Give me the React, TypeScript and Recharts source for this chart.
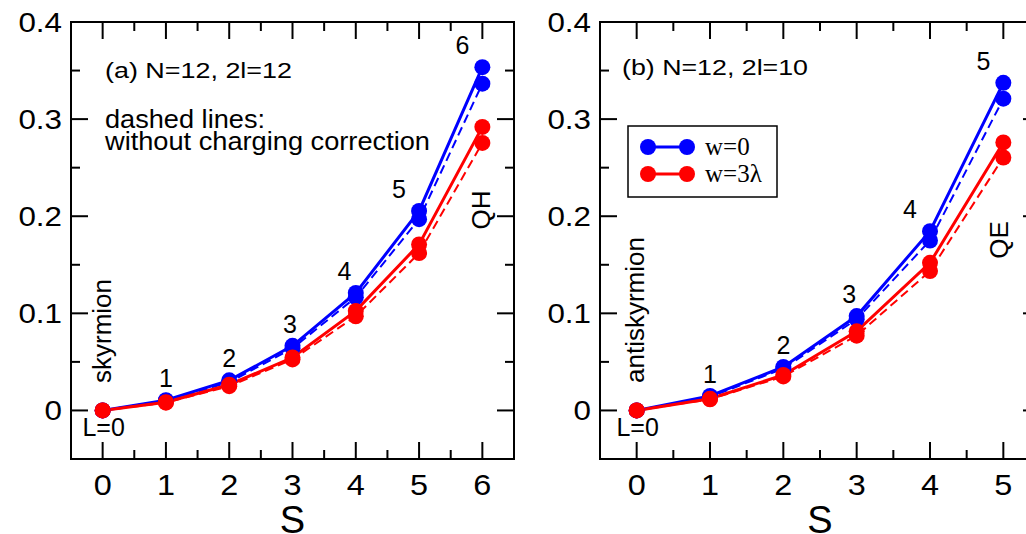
import React from "react";
import { LineChart, Line, XAxis, YAxis, LabelList, Legend, ReferenceArea, ReferenceLine } from "recharts";

// panel (a): N=12, 2l=12
const sA = [0, 1, 2, 3, 4, 5, 6];
const aBlue = [0, 0.0105, 0.031, 0.0665, 0.121, 0.2055, 0.3535];
const aBlueBare = [0, 0.01, 0.029, 0.064, 0.1165, 0.197, 0.3365];
const aRed = [0, 0.0085, 0.0265, 0.0545, 0.1025, 0.171, 0.292];
const aRedBare = [0, 0.008, 0.025, 0.0525, 0.097, 0.162, 0.2755];

// panel (b): N=12, 2l=10
const sB = [0, 1, 2, 3, 4, 5];
const bBlue = [0, 0.015, 0.0448, 0.0972, 0.1846, 0.3374];
const bBlueBare = [0, 0.014, 0.043, 0.094, 0.175, 0.321];
const bRed = [0, 0.012, 0.0365, 0.0815, 0.152, 0.276];
const bRedBare = [0, 0.0115, 0.035, 0.077, 0.1435, 0.2605];

const aTicks = [0, 0.5, 1, 1.5, 2, 2.5, 3, 3.5, 4, 4.5, 5, 5.5, 6];
const bTicks = [0, 0.5, 1, 1.5, 2, 2.5, 3, 3.5, 4, 4.5, 5];
const yTicks = [0, 0.05, 0.1, 0.15, 0.2, 0.25, 0.3, 0.35, 0.4];

const legendNames = ["w=0", "w=3λ"];
const BLUE = "#0000ff";
const RED = "#ff0000";
const legendColors = [BLUE, RED];

const SANS = '"Liberation Sans", Arial, Helvetica, sans-serif';
const SERIF = '"Liberation Serif", "Times New Roman", serif';

const W = 530;
const H = 534;
const Y_AXIS_W = 60;
const X_AXIS_H = 40;
const Y_MIN = -0.05;
const Y_MAX = 0.4;
const MAJOR = 17; // px
const MINOR = 9;

const isMajorX = (v: number) => Math.abs(v - Math.round(v)) < 1e-6;
const isMajorY = (v: number) => Math.abs(v * 10 - Math.round(v * 10)) < 1e-6;

const BottomLabel = (p: any) => {
  const { x, y, payload } = p;
  if (!isMajorX(payload.value)) return <g />;
  return (
    <text
      transform={`translate(${x},${y + 36}) scale(1.08,1)`}
      textAnchor="middle"
      fontFamily={SANS}
      fontSize={30}
      fill="#000"
    >
      {payload.value}
    </text>
  );
};

const LeftLabel = (p: any) => {
  const { x, y, payload } = p;
  const v = payload.value as number;
  if (!isMajorY(v)) return <g />;
  return (
    <text
      transform={`translate(${x - 9},${y + 10}) scale(1.12,1)`}
      textAnchor="end"
      fontFamily={SANS}
      fontSize={28}
      fill="#000"
    >
      {v === 0 ? "0" : v.toFixed(1)}
    </text>
  );
};

const pointLabel = (vals: number[]) => (p: any) => {
  const { x, y, index, value } = p;
  if (index === 0) {
    return (
      <text x={x + 1} y={y + 26} textAnchor="middle" fontFamily={SANS} fontSize={25} fill="#000">
        L=0
      </text>
    );
  }
  const dx = -Math.min(20, Math.max(0, (vals[index] - 0.05) * 160));
  return (
    <text x={x + dx} y={y - 13} textAnchor="middle" fontFamily={SANS} fontSize={25} fill="#000">
      {value}
    </text>
  );
};

const axisTitle = (p: any) => {
  const vb = p.viewBox;
  return (
    <text x={vb.x + vb.width / 2} y={vb.y + 74} textAnchor="middle" fontFamily={SANS} fontSize={38} fill="#000">
      S
    </text>
  );
};

const legendContent = () => (
  <svg width={152} height={74} style={{ display: "block" }}>
    <rect x={1} y={1} width={149} height={71} fill="#fff" stroke="#000" strokeWidth={1.5} />
    {legendNames.map((name, i) => {
      const cy = 22 + i * 27;
      const c = legendColors[i];
      return (
        <g key={name}>
          <line x1={21} x2={60} y1={cy} y2={cy} stroke={c} strokeWidth={3} />
          <circle cx={21} cy={cy} r={8} fill={c} />
          <circle cx={60} cy={cy} r={8} fill={c} />
          <text x={78} y={cy + 8} fontFamily={SERIF} fontSize={25} fill="#000">
            {name}
          </text>
        </g>
      );
    })}
  </svg>
);

type PanelProps = {
  rows: any[];
  labelVals: number[];
  xMax: number;
  xTicks: number[];
  margin: { top: number; right: number; bottom: number; left: number };
  legend?: boolean;
};

function Panel({ rows, labelVals, xMax, xTicks, margin, legend }: PanelProps) {
  const dot = (c: string) => ({ r: 8, fill: c, stroke: "none" });
  const xLo = -0.5;
  const xHi = xMax + 0.5;
  const plotW = W - margin.left - margin.right - Y_AXIS_W;
  const plotH = H - margin.top - margin.bottom - X_AXIS_H;
  const xPerPx = (xHi - xLo) / plotW;
  const yPerPx = (Y_MAX - Y_MIN) / plotH;

  // inward ticks on all four sides of the frame
  const segs: { x: number; y: number }[][] = [];
  xTicks.forEach((t) => {
    const len = (isMajorX(t) ? MAJOR : MINOR) * yPerPx;
    segs.push([{ x: t, y: Y_MIN }, { x: t, y: Y_MIN + len }]);
    segs.push([{ x: t, y: Y_MAX }, { x: t, y: Y_MAX - len }]);
  });
  yTicks.forEach((t) => {
    const len = (isMajorY(t) ? MAJOR : MINOR) * xPerPx;
    segs.push([{ x: xLo, y: t }, { x: xLo + len, y: t }]);
    segs.push([{ x: xHi, y: t }, { x: xHi - len, y: t }]);
  });

  return (
    <LineChart width={W} height={H} data={rows} margin={margin}>
      <XAxis
        xAxisId="bottom"
        dataKey="s"
        type="number"
        domain={[xLo, xHi]}
        ticks={xTicks}
        interval={0}
        height={X_AXIS_H}
        tickSize={0}
        tickMargin={0}
        tickLine={false}
        axisLine={false}
        tick={BottomLabel}
        label={{ content: axisTitle }}
      />
      <YAxis
        yAxisId="left"
        type="number"
        domain={[Y_MIN, Y_MAX]}
        ticks={yTicks}
        interval={0}
        width={Y_AXIS_W}
        tickSize={0}
        tickMargin={0}
        tickLine={false}
        axisLine={false}
        tick={LeftLabel}
      />
      <ReferenceArea
        xAxisId="bottom"
        yAxisId="left"
        x1={xLo}
        x2={xHi}
        y1={Y_MIN}
        y2={Y_MAX}
        fill="none"
        fillOpacity={0}
        stroke="#000"
        strokeWidth={2}
        ifOverflow="visible"
      />
      {segs.map((seg, i) => (
        <ReferenceLine
          key={i}
          xAxisId="bottom"
          yAxisId="left"
          segment={seg}
          stroke="#000"
          strokeWidth={2}
          ifOverflow="visible"
        />
      ))}
      {legend && (
        <Legend
          layout="vertical"
          align="center"
          verticalAlign="middle"
          content={legendContent}
          wrapperStyle={{ left: 97, top: 125, width: 152, height: 74 }}
        />
      )}
      <Line xAxisId="bottom" yAxisId="left" dataKey="blue" name="w=0" stroke={BLUE} strokeWidth={3} dot={dot(BLUE)} isAnimationActive={false}>
        <LabelList dataKey="s" content={pointLabel(labelVals)} />
      </Line>
      <Line xAxisId="bottom" yAxisId="left" dataKey="blueBare" stroke={BLUE} strokeWidth={2} strokeDasharray="9 5" dot={dot(BLUE)} isAnimationActive={false} />
      <Line xAxisId="bottom" yAxisId="left" dataKey="red" name="w=3λ" stroke={RED} strokeWidth={3} dot={dot(RED)} isAnimationActive={false} />
      <Line xAxisId="bottom" yAxisId="left" dataKey="redBare" stroke={RED} strokeWidth={2} strokeDasharray="9 5" dot={dot(RED)} isAnimationActive={false} />
    </LineChart>
  );
}

const rowsA = sA.map((s, i) => ({ s, blue: aBlue[i], blueBare: aBlueBare[i], red: aRed[i], redBare: aRedBare[i] }));
const rowsB = sB.map((s, i) => ({ s, blue: bBlue[i], blueBare: bBlueBare[i], red: bRed[i], redBare: bRedBare[i] }));

const overlay: React.CSSProperties = { position: "absolute", left: 0, top: 0, pointerEvents: "none" };

const vtext = (label: string, x: number, y: number, size = 26) => (
  <text transform={`translate(${x},${y}) rotate(-90)`} textAnchor="middle" fontFamily={SANS} fontSize={size} fill="#000">
    {label}
  </text>
);

export default function App() {
  return (
    <div style={{ position: "fixed", left: 0, top: 0, width: 1026, height: 534, overflow: "hidden", background: "#fff" }}>
      <div style={{ position: "absolute", left: 0, top: 0, width: W, height: H }}>
        <Panel rows={rowsA} labelVals={aBlue} xMax={6} xTicks={aTicks} margin={{ top: 22, right: 16, bottom: 35, left: 11 }} />
        <svg width={W} height={H} style={overlay}>
          <text x={105} y={78} fontFamily={SANS} fontSize={22} textLength={187} lengthAdjust="spacingAndGlyphs">
            (a) N=12, 2l=12
          </text>
          <text x={105} y={128} fontFamily={SANS} fontSize={25} textLength={160} lengthAdjust="spacingAndGlyphs">
            dashed lines:
          </text>
          <text x={105} y={150} fontFamily={SANS} fontSize={25} textLength={325} lengthAdjust="spacingAndGlyphs">
            without charging correction
          </text>
          {vtext("skyrmion", 111, 331)}
          {vtext("QH", 490, 210)}
        </svg>
      </div>
      <div style={{ position: "absolute", left: 530, top: 0, width: W, height: H }}>
        <Panel rows={rowsB} labelVals={bBlue} xMax={5} xTicks={bTicks} margin={{ top: 22, right: 20, bottom: 35, left: 10 }} legend />
        <svg width={W} height={H} style={overlay}>
          <text x={92} y={75} fontFamily={SANS} fontSize={22} textLength={186} lengthAdjust="spacingAndGlyphs">
            (b) N=12, 2l=10
          </text>
          {vtext("antiskyrmion", 114, 310)}
          {vtext("QE", 478, 240)}
        </svg>
      </div>
    </div>
  );
}
